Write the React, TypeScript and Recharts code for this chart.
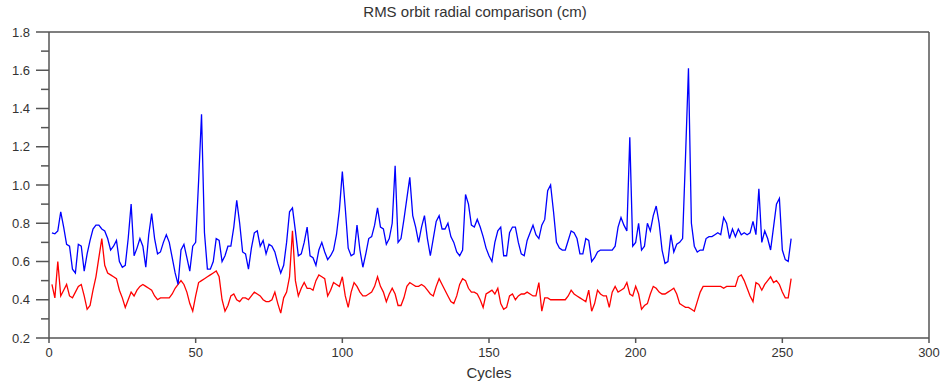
import { LineChart, Line, XAxis, YAxis, ReferenceLine } from 'recharts'

// RMS radial orbit, per cycle (cycle 1 .. 253)
const blueRms = [
  0.75, 0.745, 0.76, 0.86, 0.78, 0.69, 0.68, 0.56, 0.54, 0.69,
  0.68, 0.55, 0.64, 0.71, 0.77, 0.79, 0.79, 0.77, 0.76, 0.72,
  0.66, 0.68, 0.71, 0.6, 0.57, 0.58, 0.72, 0.9, 0.63, 0.67,
  0.72, 0.68, 0.57, 0.74, 0.85, 0.72, 0.64, 0.65, 0.7, 0.74,
  0.7, 0.62, 0.54, 0.48, 0.66, 0.69, 0.62, 0.55, 0.68, 0.7,
  1.02, 1.37, 0.75, 0.56, 0.56, 0.6, 0.72, 0.71, 0.6, 0.63,
  0.68, 0.68, 0.78, 0.92, 0.8, 0.65, 0.64, 0.56, 0.67, 0.75,
  0.76, 0.68, 0.71, 0.64, 0.69, 0.68, 0.65, 0.59, 0.54, 0.58,
  0.7, 0.86, 0.88, 0.76, 0.63, 0.64, 0.7, 0.78, 0.63, 0.62,
  0.58, 0.66, 0.7, 0.65, 0.61, 0.63, 0.66, 0.74, 0.87, 1.07,
  0.88, 0.67, 0.63, 0.64, 0.79, 0.66, 0.57, 0.64, 0.72, 0.73,
  0.79, 0.88, 0.78, 0.77, 0.69, 0.72, 0.8, 1.1, 0.7, 0.72,
  0.82, 0.93, 1.04, 0.84, 0.78, 0.7, 0.78, 0.84, 0.72, 0.63,
  0.72, 0.81, 0.84, 0.77, 0.77, 0.8, 0.73, 0.7, 0.65, 0.63,
  0.66, 0.95, 0.9, 0.79, 0.78, 0.82, 0.78, 0.73, 0.67, 0.63,
  0.6, 0.7, 0.76, 0.78, 0.63, 0.63, 0.75, 0.78, 0.78, 0.7,
  0.64, 0.63, 0.71, 0.75, 0.79, 0.74, 0.72, 0.79, 0.82, 0.97,
  1.0, 0.86, 0.7, 0.67, 0.66, 0.66, 0.71, 0.76, 0.75, 0.72,
  0.64, 0.64, 0.72, 0.71, 0.6, 0.62, 0.65, 0.66, 0.66, 0.66,
  0.66, 0.66, 0.68, 0.78, 0.83, 0.79, 0.76, 1.25, 0.68, 0.7,
  0.8, 0.66, 0.68, 0.8, 0.76, 0.84, 0.89, 0.8, 0.66, 0.59,
  0.6, 0.74, 0.65, 0.69, 0.7, 0.72, 1.15, 1.61, 0.8, 0.68,
  0.65, 0.66, 0.66, 0.72, 0.73, 0.73, 0.74, 0.75, 0.74, 0.83,
  0.8, 0.72, 0.77, 0.73, 0.77, 0.74, 0.75, 0.74, 0.75, 0.81,
  0.74, 0.98, 0.7, 0.76, 0.72, 0.66, 0.78, 0.9, 0.93, 0.66,
  0.61, 0.6, 0.72,
]

const redRms = [
  0.48, 0.41, 0.6, 0.42, 0.45, 0.48, 0.42, 0.41, 0.44, 0.47,
  0.48, 0.42, 0.35, 0.37, 0.45, 0.52, 0.62, 0.72, 0.58, 0.54,
  0.53, 0.52, 0.51, 0.45, 0.41, 0.36, 0.4, 0.44, 0.42, 0.45,
  0.47, 0.48, 0.47, 0.46, 0.45, 0.42, 0.4, 0.41, 0.41, 0.41,
  0.41, 0.43, 0.46, 0.48, 0.5, 0.48, 0.44, 0.38, 0.34, 0.42,
  0.49, 0.5, 0.51, 0.52, 0.53, 0.54, 0.55, 0.52, 0.4, 0.34,
  0.37, 0.42, 0.43, 0.4, 0.39, 0.41, 0.41, 0.4, 0.42, 0.44,
  0.43, 0.42, 0.4, 0.39, 0.39, 0.4, 0.44, 0.38, 0.33, 0.41,
  0.44, 0.52, 0.76, 0.5, 0.42, 0.46, 0.49, 0.46, 0.46, 0.45,
  0.5, 0.53, 0.52, 0.51, 0.42, 0.45, 0.49, 0.48, 0.47, 0.52,
  0.42, 0.36, 0.44, 0.49, 0.47, 0.44, 0.42, 0.42, 0.43, 0.44,
  0.47, 0.52, 0.47, 0.44, 0.39, 0.43, 0.46, 0.43, 0.37, 0.37,
  0.41, 0.47, 0.49, 0.48, 0.47, 0.47, 0.48, 0.47, 0.45, 0.43,
  0.42, 0.47, 0.51, 0.48, 0.45, 0.42, 0.39, 0.38, 0.42, 0.48,
  0.51, 0.5, 0.46, 0.44, 0.44, 0.43, 0.4, 0.36, 0.43, 0.44,
  0.45, 0.43, 0.46, 0.38, 0.35, 0.36, 0.42, 0.43, 0.4, 0.42,
  0.43, 0.43, 0.44, 0.43, 0.42, 0.42, 0.49, 0.34, 0.41, 0.41,
  0.4, 0.4, 0.4, 0.4, 0.4, 0.4, 0.42, 0.45, 0.43, 0.42,
  0.41, 0.4, 0.39, 0.45, 0.34, 0.38, 0.45, 0.43, 0.42, 0.42,
  0.36, 0.44, 0.47, 0.44, 0.45, 0.46, 0.49, 0.43, 0.42, 0.47,
  0.43, 0.35, 0.37, 0.38, 0.43, 0.47, 0.46, 0.44, 0.43, 0.43,
  0.44, 0.45, 0.46, 0.43, 0.38, 0.37, 0.36, 0.36, 0.35, 0.34,
  0.39, 0.44, 0.47, 0.47, 0.47, 0.47, 0.47, 0.47, 0.47, 0.46,
  0.47, 0.47, 0.47, 0.47, 0.52, 0.53, 0.5, 0.46, 0.42, 0.39,
  0.49, 0.48, 0.45, 0.48, 0.5, 0.52, 0.49, 0.5, 0.48, 0.44,
  0.41, 0.41, 0.51,
]

const xTicks = [0, 50, 100, 150, 200, 250, 300]
const yTicks = [0.2, 0.3, 0.4, 0.5, 0.6, 0.7, 0.8, 0.9, 1.0, 1.1, 1.2, 1.3, 1.4, 1.5, 1.6, 1.7, 1.8]

const data = blueRms.map((b, i) => ({ cycle: i + 1, blue: b, red: redRms[i] }))

const axisColor = '#555'
const textColor = '#333'
const font = '"Liberation Sans", Arial, sans-serif'

function YTick({ x, y, payload }: any) {
  const v = payload.value
  const major = Math.round(v * 10) % 2 === 0
  return (
    <g>
      <line x1={x - (major ? 13 : 8)} y1={y} x2={x} y2={y} stroke={axisColor} strokeWidth={1.5} />
      {major && (
        <text x={x - 19} y={y} dy={4.5} textAnchor="end" fontSize={13} fill={textColor} fontFamily={font}>
          {v.toFixed(1)}
        </text>
      )}
    </g>
  )
}

export default function App() {
  return (
    <div style={{ position: 'absolute', left: 0, top: 0, width: 941, height: 382, background: '#fff', fontFamily: font }}>
      <div style={{ position: 'absolute', left: 0, width: 950, top: 3, textAlign: 'center', fontSize: 15, color: textColor, lineHeight: '18px' }}>
        RMS orbit radial comparison (cm)
      </div>
      <LineChart width={941} height={382} data={data} margin={{ top: 32, right: 12, left: 0, bottom: 0 }}>
        <XAxis
          dataKey="cycle"
          type="number"
          domain={[0, 300]}
          ticks={xTicks}
          interval={0}
          height={44}
          tickSize={5}
          tickMargin={5}
          stroke={axisColor}
          strokeWidth={1.5}
          tick={{ fill: textColor, fontSize: 13, fontFamily: font }}
        />
        <YAxis
          type="number"
          domain={[0.2, 1.8]}
          ticks={yTicks}
          interval={0}
          width={49}
          tickSize={0}
          tickMargin={0}
          tickLine={false}
          stroke={axisColor}
          strokeWidth={1.5}
          tick={<YTick />}
        />
        <ReferenceLine y={1.8} stroke={axisColor} strokeWidth={1.5} />
        <ReferenceLine x={300} stroke={axisColor} strokeWidth={1.5} />
        <Line type="linear" dataKey="red" stroke="#ff0000" strokeWidth={1.3} dot={false} isAnimationActive={false} />
        <Line type="linear" dataKey="blue" stroke="#0000ff" strokeWidth={1.3} dot={false} isAnimationActive={false} />
      </LineChart>
      <div style={{ position: 'absolute', left: 0, width: 978, top: 364, textAlign: 'center', fontSize: 15, color: textColor, lineHeight: '18px' }}>
        Cycles
      </div>
    </div>
  )
}
